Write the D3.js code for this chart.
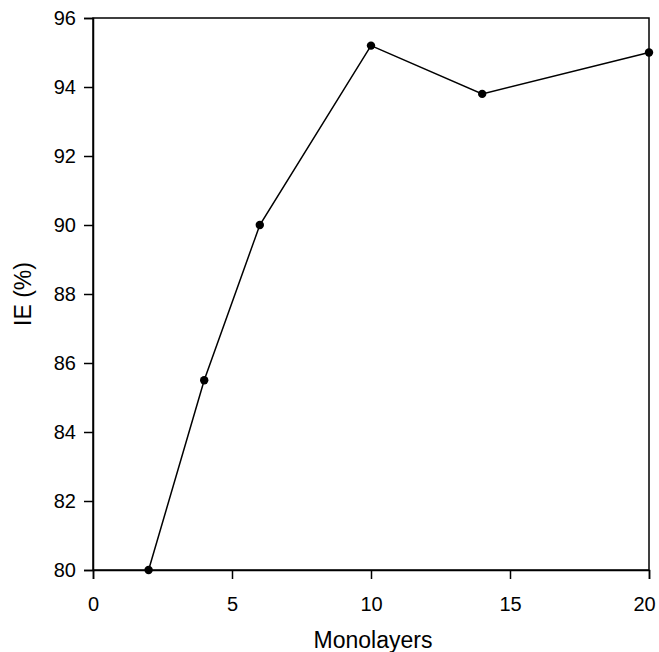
<!DOCTYPE html>
<html><head><meta charset="utf-8">
<script src="https://cdn.jsdelivr.net/npm/d3@7"></script>
<style>body{margin:0;background:#fff}text{font-family:"Liberation Sans",Arial,sans-serif;fill:#000}</style>
</head><body><svg id="c" width="659" height="652"></svg>
<script>
const monolayers = [2, 4, 6, 10, 14, 20];
const ie = [80, 85.5, 90, 95.2, 93.8, 95];
const xTicks = [0, 5, 10, 15, 20];
const yTicks = [80, 82, 84, 86, 88, 90, 92, 94, 96];

const svg = d3.select("#c");
const L = 93, R = 649, T = 18, B = 570;
const x = d3.scaleLinear().domain([0, 20]).range([L, R]);
const y = d3.scaleLinear().domain([80, 96]).range([B, T]);

svg.append("rect").attr("x", L).attr("y", T).attr("width", R - L).attr("height", B - T)
  .attr("fill", "none").attr("stroke", "#000").attr("stroke-width", 1.5);

const xa = svg.append("g").attr("transform", `translate(0,${B})`)
  .call(d3.axisBottom(x).tickValues(xTicks).tickSize(9).tickPadding(18).tickFormat(d3.format("d")));
const ya = svg.append("g").attr("transform", `translate(${L},0)`)
  .call(d3.axisLeft(y).tickValues(yTicks).tickSize(9).tickPadding(8).tickFormat(d3.format("d")));
[xa, ya].forEach(a => {
  a.select(".domain").attr("stroke-width", 1.5);
  a.selectAll(".tick line").attr("stroke-width", 1.5);
  a.selectAll("text").attr("font-size", 20).attr("font-family", '"Liberation Sans",Arial,sans-serif');
});
// keep the last x label inside the page, as in the reference
xa.selectAll(".tick text").filter(d => d === 20).attr("dx", -5);

const data = monolayers.map((m, i) => ({m, v: ie[i]}));
svg.append("path").datum(data)
  .attr("d", d3.line().x(d => x(d.m)).y(d => y(d.v)))
  .attr("fill", "none").attr("stroke", "#000").attr("stroke-width", 1.5);
svg.selectAll("circle.pt").data(data).enter().append("circle")
  .attr("cx", d => x(d.m)).attr("cy", d => y(d.v)).attr("r", 4.2).attr("fill", "#000");

svg.append("text").attr("x", (L + R) / 2 + 2).attr("y", 648).attr("text-anchor", "middle")
  .attr("font-size", 23).text("Monolayers");
svg.append("text").attr("transform", `translate(31,${(T + B) / 2}) rotate(-90)`)
  .attr("text-anchor", "middle").attr("font-size", 23).text("IE (%)");
</script></body></html>
